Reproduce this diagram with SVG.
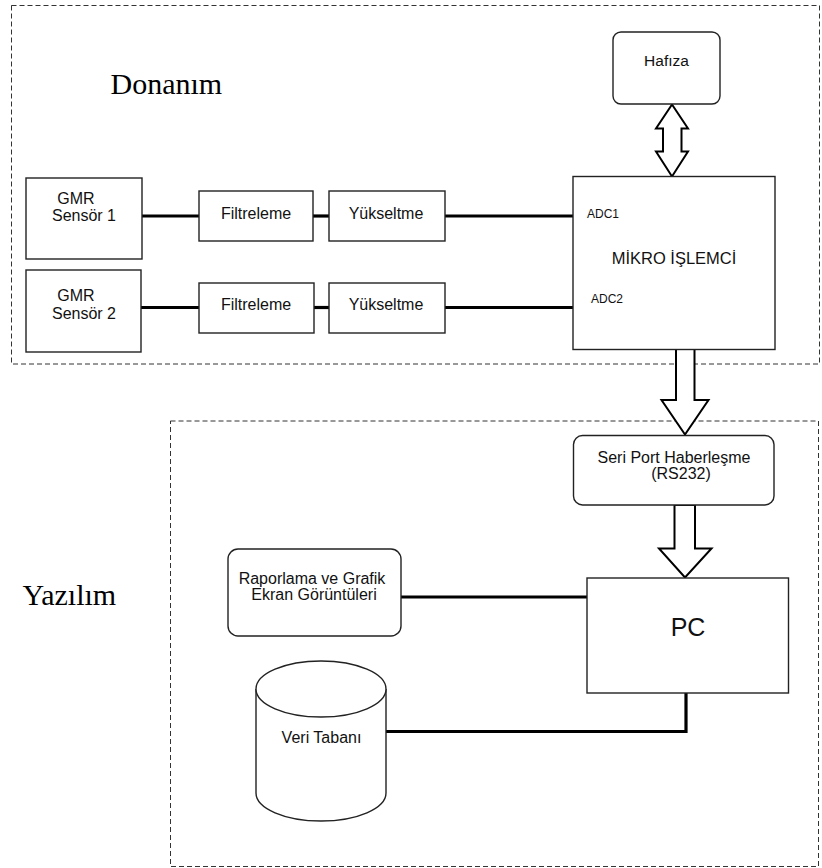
<svg xmlns="http://www.w3.org/2000/svg" width="822" height="868" viewBox="0 0 822 868">
<style>
.bg{fill:#fff}
.zone{fill:none;stroke:#333;stroke-width:1;stroke-dasharray:5 3}
.box{fill:#fff;stroke:#222;stroke-width:1.4}
.wire{fill:none;stroke:#000;stroke-width:3.2}
.arrow{fill:#fff;stroke:#000;stroke-width:2;stroke-linejoin:miter}
.t{font-family:"Liberation Sans",Arial,sans-serif;fill:#111;text-anchor:middle}
.title{font-family:"Liberation Serif","Times New Roman",serif;font-size:30px;fill:#000}
</style>
<rect class="bg" x="0" y="0" width="822" height="868"/>
<g id="zones">
<rect class="zone" x="11.5" y="5.5" width="808" height="358.5"/>
<rect class="zone" x="170.5" y="421" width="648" height="445.5"/>
<text class="title" x="110.5" y="94">Donanım</text>
<text class="title" x="22.5" y="605">Yazılım</text>
</g>
<g id="connectors">
<line class="wire" x1="142" y1="216" x2="199" y2="216"/>
<line class="wire" x1="313" y1="216" x2="329" y2="216"/>
<line class="wire" x1="445" y1="216" x2="573" y2="216"/>
<line class="wire" x1="141" y1="307.5" x2="199" y2="307.5"/>
<line class="wire" x1="314" y1="307.5" x2="329" y2="307.5"/>
<line class="wire" x1="445" y1="307.5" x2="573" y2="307.5"/>
<line class="wire" x1="401" y1="597" x2="587" y2="597"/>
<polyline class="wire" points="686,693 686,731.5 386,731.5"/>
<polygon class="arrow" points="672,104.5 688,128.5 681.5,128.5 681.5,151.5 688,151.5 672,176.5 656,151.5 663,151.5 663,128.5 656,128.5"/>
<polygon class="arrow" points="676,349 694.5,349 694.5,400 708.5,400 685,434.5 661.5,400 676,400"/>
<polygon class="arrow" points="674.5,505 695,505 695,548.5 711.5,548.5 685,577.5 659,548.5 674.5,548.5"/>
</g>
<g id="hafiza">
<rect class="box" x="613" y="32" width="107" height="72" rx="8"/>
<text class="t" x="666.5" y="65.5" font-size="15.5">Hafıza</text>
</g>
<g id="mikro">
<rect class="box" x="573" y="176.5" width="202" height="173"/>
<text class="t" x="674" y="264" font-size="16.5">MİKRO İŞLEMCİ</text>
<text class="t" x="603" y="218" font-size="12">ADC1</text>
<text class="t" x="607" y="302.5" font-size="12">ADC2</text>
</g>
<g id="sensor1">
<rect class="box" x="26" y="178" width="116" height="81"/>
<text class="t" x="76" y="204" font-size="16">GMR</text>
<text class="t" x="84" y="220.5" font-size="16">Sensör 1</text>
</g>
<g id="sensor2">
<rect class="box" x="26" y="270" width="115" height="82"/>
<text class="t" x="76" y="300.5" font-size="16">GMR</text>
<text class="t" x="84" y="319" font-size="16">Sensör 2</text>
</g>
<g id="filtre1">
<rect class="box" x="199" y="191" width="114" height="50"/>
<text class="t" x="256" y="218.5" font-size="16">Filtreleme</text>
</g>
<g id="yuks1">
<rect class="box" x="329" y="191" width="116" height="50"/>
<text class="t" x="386" y="218.5" font-size="16">Yükseltme</text>
</g>
<g id="filtre2">
<rect class="box" x="199" y="283" width="115" height="50"/>
<text class="t" x="256" y="310" font-size="16">Filtreleme</text>
</g>
<g id="yuks2">
<rect class="box" x="329" y="283" width="116" height="50"/>
<text class="t" x="386" y="310" font-size="16">Yükseltme</text>
</g>
<g id="seriport">
<rect class="box" x="573.5" y="435.5" width="200.5" height="69.5" rx="9"/>
<text class="t" x="674" y="462.5" font-size="16">Seri Port Haberleşme</text>
<text class="t" x="681" y="478.5" font-size="16">(RS232)</text>
</g>
<g id="raporlama">
<rect class="box" x="228" y="549" width="173" height="87" rx="10"/>
<text class="t" x="312" y="584" font-size="16">Raporlama ve Grafik</text>
<text class="t" x="314" y="600" font-size="16">Ekran Görüntüleri</text>
</g>
<g id="pc">
<rect class="box" x="587" y="578" width="201.5" height="115"/>
<text class="t" x="688" y="636" font-size="25">PC</text>
</g>
<g id="veritabani">
<path class="box" d="M256,689 V793 A65,28 0 0 0 386,793 V689"/>
<ellipse class="box" cx="321" cy="689" rx="65" ry="28"/>
<text class="t" x="321.5" y="743" font-size="16">Veri Tabanı</text>
</g>
</svg>
